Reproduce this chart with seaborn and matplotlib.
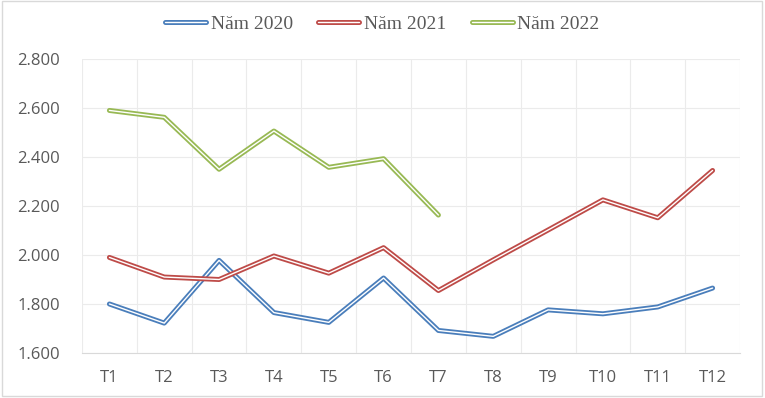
import matplotlib
matplotlib.use("Agg")
import matplotlib.pyplot as plt
import matplotlib.patheffects as pe
from matplotlib.lines import Line2D
from matplotlib.patches import Rectangle
from matplotlib.ticker import FuncFormatter, FixedLocator
import seaborn as sns
import pandas as pd

months = ["T1", "T2", "T3", "T4", "T5", "T6", "T7", "T8", "T9", "T10", "T11", "T12"]
nam_2020 = [1800, 1722, 1978, 1765, 1725, 1906, 1692, 1668, 1776, 1760, 1788, 1865]
nam_2021 = [1990, 1910, 1900, 1996, 1926, 2030, 1855, 1980, 2102, 2225, 2152, 2345]
nam_2022 = [2590, 2562, 2350, 2506, 2358, 2393, 2163]
series = [("Năm 2020", nam_2020, "#4a7ebb"),
          ("Năm 2021", nam_2021, "#be4b48"),
          ("Năm 2022", nam_2022, "#98b954")]

sns.set_theme(style="white")
plt.rcParams["font.family"] = ["Open Sans", "DejaVu Sans"]

fig = plt.figure(figsize=(7.65, 3.98), dpi=100)
ax = fig.add_axes([82/765, 1-353/398, (740-82)/765, (353-59)/398])

def dbl(color, w=3.6):
    return [pe.Stroke(linewidth=w, foreground=color), pe.Normal()]

handles = []
for name, vals, col in series:
    df = pd.DataFrame({"x": list(range(len(vals))), "y": vals})
    sns.lineplot(data=df, x="x", y="y", ax=ax, color="white", linewidth=1.0,
                 path_effects=dbl(col), legend=False)
    h = Line2D([], [], color="white", linewidth=1.0, path_effects=dbl(col))
    handles.append(h)

ax.set_xlim(-0.5, 11.5)
ax.set_ylim(1600, 2800)
ax.set_xticks(range(12))
ax.set_xticklabels(months)
ax.xaxis.set_minor_locator(FixedLocator([i - 0.5 for i in range(13)]))
ax.set_yticks([1600, 1800, 2000, 2200, 2400, 2600, 2800])
ax.yaxis.set_major_formatter(FuncFormatter(lambda v, p: f"{int(v):,}".replace(",", ".")))
ax.grid(False)
ax.grid(True, which="minor", axis="x", color="#ebebeb", linewidth=0.8)
ax.grid(True, which="major", axis="y", color="#ebebeb", linewidth=0.8)
ax.tick_params(axis="both", which="both", length=0, labelsize=12, colors="#595959")
ax.tick_params(axis="x", pad=12)
ax.tick_params(axis="y", pad=16)
for s in ["top", "right", "left"]:
    ax.spines[s].set_visible(False)
ax.spines["bottom"].set_color("#d9d9d9")
ax.spines["bottom"].set_linewidth(0.8)
ax.set_xlabel("")
ax.set_ylabel("")

leg = fig.legend(handles, [s[0] for s in series], loc="center", bbox_to_anchor=(0.5, 1-24/398),
                 ncol=3, frameon=False, handlelength=2.1, columnspacing=1.3,
                 handletextpad=0.25, labelcolor="#595959",
                 prop={"family": ["Liberation Serif", "DejaVu Serif"], "size": 14})

fig.patches.append(Rectangle((0.002, 0.004), 0.994, 0.994, transform=fig.transFigure,
                             fill=False, edgecolor="#d9d9d9", linewidth=1))
fig.savefig("out.png", dpi=100)
